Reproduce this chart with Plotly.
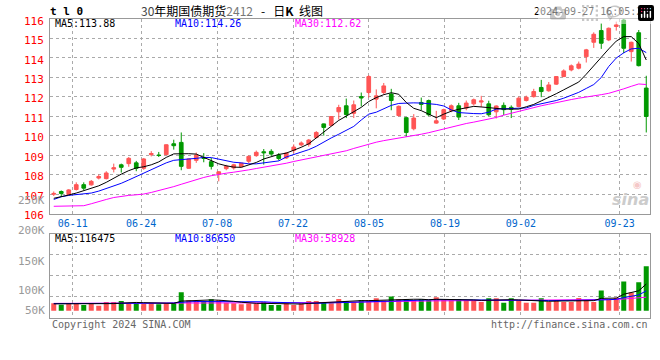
import plotly.graph_objects as go

# ---------------- data ----------------
dates = ["06-05", "06-06", "06-07", "06-11", "06-12", "06-13", "06-14", "06-17", "06-18", "06-19",
         "06-20", "06-21", "06-24", "06-25", "06-26", "06-27", "06-28",
         "07-01", "07-02", "07-03", "07-04", "07-05", "07-08", "07-09", "07-10", "07-11", "07-12",
         "07-15", "07-16", "07-17", "07-18", "07-19", "07-22", "07-23", "07-24", "07-25", "07-26",
         "07-29", "07-30", "07-31",
         "08-01", "08-02", "08-05", "08-06", "08-07", "08-08", "08-09", "08-12", "08-13", "08-14",
         "08-15", "08-16", "08-19", "08-20", "08-21", "08-22", "08-23", "08-26", "08-27", "08-28",
         "08-29", "08-30",
         "09-02", "09-03", "09-04", "09-05", "09-06", "09-09", "09-10", "09-11", "09-12", "09-13",
         "09-18", "09-19", "09-20", "09-23", "09-24", "09-25", "09-26", "09-27"]

opens = [106.99, 107.13, 106.97, 107.23, 107.48, 107.47, 107.82, 107.79, 108.28, 108.50,
         108.56, 108.60, 108.32, 109.02, 109.00, 109.02, 109.58, 109.65, 108.32, 108.73,
         108.87, 108.66, 108.03, 108.30, 108.34, 108.40, 108.68, 108.97, 109.17, 109.19,
         109.00, 108.85, 109.24, 109.52, 109.55, 109.90, 110.60, 110.52, 111.22, 111.53,
         111.14, 112.00, 112.21, 111.87, 112.21, 112.13, 111.03, 110.92, 110.35, 111.70,
         111.80, 110.64, 110.85, 111.29, 111.53, 111.41, 111.63, 111.72, 111.63, 111.22,
         111.55, 111.45, 111.49, 111.80, 112.00, 112.47, 112.30, 112.64, 113.03, 113.37,
         113.46, 114.05, 114.79, 115.39, 114.91, 115.60, 115.93, 114.31, 115.28, 112.44]
highs = [107.13, 107.18, 107.25, 107.60, 107.60, 107.72, 108.00, 108.17, 108.56, 108.56,
         108.90, 108.70, 108.85, 109.20, 109.16, 109.55, 109.79, 110.16, 108.82, 109.13,
         109.10, 108.85, 108.17, 108.50, 108.55, 108.60, 108.98, 109.23, 109.31, 109.30,
         109.10, 109.15, 109.55, 109.70, 109.82, 110.23, 110.62, 111.00, 111.58, 111.90,
         111.80, 112.21, 113.10, 112.37, 112.70, 112.40, 111.55, 110.95, 111.10, 111.95,
         111.85, 111.27, 111.38, 111.60, 111.68, 111.80, 111.90, 112.04, 111.79, 111.55,
         111.70, 111.55, 112.00, 112.05, 112.40, 112.86, 112.75, 113.05, 113.40, 113.65,
         113.80, 114.45, 115.30, 115.77, 115.55, 115.85, 116.10, 114.82, 115.42, 113.07]
lows = [106.90, 106.89, 106.95, 107.18, 107.20, 107.43, 107.75, 107.75, 108.11, 108.10,
        108.40, 108.17, 108.24, 108.93, 108.90, 109.00, 109.28, 108.22, 108.30, 108.60,
        108.63, 108.26, 107.65, 108.22, 108.25, 108.38, 108.58, 108.91, 108.51, 108.95,
        108.72, 108.80, 109.10, 109.45, 109.43, 109.86, 110.00, 110.50, 110.82, 110.90,
        110.90, 111.50, 111.95, 111.40, 112.10, 111.30, 110.97, 109.93, 110.27, 111.30,
        111.00, 110.60, 110.80, 111.20, 110.80, 111.30, 111.55, 111.46, 111.00, 110.88,
        111.05, 110.90, 111.45, 111.75, 111.95, 111.97, 112.25, 112.60, 113.00, 113.30,
        113.40, 113.75, 114.50, 114.45, 114.85, 115.39, 114.23, 113.80, 113.55, 110.16]
closes = [107.03, 107.03, 107.21, 107.48, 107.30, 107.65, 107.90, 108.08, 108.35, 108.37,
          108.83, 108.32, 108.80, 109.08, 108.98, 109.53, 109.48, 108.42, 108.80, 109.00,
          108.83, 108.42, 108.14, 108.42, 108.50, 108.58, 108.93, 109.14, 109.12, 109.05,
          108.82, 109.10, 109.41, 109.62, 109.77, 110.16, 110.42, 110.98, 111.44, 111.08,
          111.58, 111.93, 113.03, 112.04, 112.55, 111.80, 111.50, 110.16, 110.90, 111.60,
          111.07, 110.76, 111.33, 111.53, 110.95, 111.67, 111.84, 111.78, 111.07, 111.52,
          111.33, 111.35, 111.92, 111.97, 112.26, 112.26, 112.60, 113.03, 113.32, 113.58,
          113.67, 114.40, 115.20, 114.74, 115.51, 115.68, 114.48, 114.79, 113.59, 110.98]

ma5 = [106.78, 106.85, 106.95, 107.05, 107.18, 107.28, 107.42, 107.60, 107.82, 108.02,
       108.20, 108.34, 108.40, 108.50, 108.65, 108.88, 109.06, 109.08, 109.07, 109.05,
       108.88, 108.72, 108.55, 108.45, 108.38, 108.37, 108.48, 108.62, 108.80, 108.92,
       109.03, 109.10, 109.23, 109.40, 109.58, 109.88, 110.15, 110.45, 110.78, 111.00,
       111.22, 111.45, 111.75, 111.95, 112.10, 112.20, 112.12, 111.70, 111.40, 111.28,
       111.10, 110.92, 111.10, 111.25, 111.35, 111.42, 111.50, 111.47, 111.44, 111.38,
       111.36, 111.36, 111.36, 111.48, 111.60, 111.78, 111.95, 112.15, 112.35, 112.55,
       112.75, 113.15, 113.60, 114.00, 114.45, 114.85, 115.08, 115.08, 114.72, 113.88]
ma10 = [106.72, 106.86, 106.93, 106.97, 106.98, 107.05, 107.15, 107.27, 107.40, 107.55,
        107.72, 107.90, 108.07, 108.25, 108.42, 108.60, 108.73, 108.78, 108.80, 108.83,
        108.88, 108.87, 108.80, 108.70, 108.63, 108.60, 108.55, 108.55, 108.60, 108.64,
        108.70, 108.90, 109.02, 109.13, 109.28, 109.45, 109.68, 109.88, 110.07, 110.27,
        110.47, 110.80, 111.10, 111.20, 111.38, 111.55, 111.65, 111.68, 111.68, 111.67,
        111.64, 111.60, 111.52, 111.32, 111.18, 111.14, 111.13, 111.12, 111.20, 111.36,
        111.37, 111.37, 111.38, 111.42, 111.55, 111.62, 111.70, 111.80, 111.92, 112.05,
        112.22, 112.42, 112.62, 112.98, 113.55, 113.98, 114.25, 114.45, 114.48, 114.26]
ma30 = [106.37, 106.37, 106.37, 106.38, 106.40, 106.50, 106.62, 106.72, 106.82, 106.89,
        106.93, 106.96, 107.00, 107.08, 107.17, 107.27, 107.38, 107.50, 107.62, 107.74,
        107.85, 107.94, 108.02, 108.07, 108.12, 108.17, 108.24, 108.31, 108.38, 108.43,
        108.49, 108.58, 108.67, 108.75, 108.82, 108.90, 108.97, 109.04, 109.12, 109.22,
        109.34, 109.45, 109.55, 109.66, 109.74, 109.80, 109.86, 109.93, 110.00, 110.07,
        110.15, 110.24, 110.34, 110.45, 110.55, 110.62, 110.69, 110.77, 110.85, 110.93,
        111.05, 111.15, 111.24, 111.35, 111.44, 111.53, 111.61, 111.70, 111.78, 111.85,
        111.92, 111.97, 112.03, 112.10, 112.17, 112.27, 112.40, 112.53, 112.65, 112.62]

volume = [33000, 26000, 29000, 29000, 25000, 34000, 22000, 38000, 38000, 42000,
          33000, 34000, 29000, 34000, 28000, 34000, 34000, 81000, 46000, 42000,
          42000, 50000, 46000, 35000, 33000, 28000, 31000, 30000, 38000, 25000,
          25000, 33000, 25000, 33000, 42000, 42000, 38000, 33000, 51000, 42000,
          38000, 46000, 46000, 54000, 43000, 62000, 50000, 50000, 46000, 50000,
          46000, 59000, 48000, 46000, 50000, 46000, 46000, 38000, 54000, 54000,
          35000, 54000, 46000, 35000, 35000, 54000, 38000, 46000, 38000, 38000,
          55000, 46000, 38000, 88000, 48000, 57000, 127000, 80000, 124000, 194000]
vol_ma5 = [30, 30, 30, 29, 29, 28, 28, 29, 31, 33,
           35, 36, 35, 34, 32, 32, 32, 42, 44, 46,
           46, 47, 46, 45, 41, 37, 34, 32, 32, 31,
           30, 30, 29, 29, 32, 34, 37, 38, 41, 43,
           43, 44, 44, 45, 46, 49, 51, 50, 50, 50,
           48, 50, 50, 49, 49, 49, 47, 45, 46, 48,
           47, 48, 47, 45, 42, 43, 41, 42, 42, 42,
           45, 44, 44, 54, 55, 55, 72, 80, 87, 116.475]
vol_ma10 = [31, 31, 31, 30, 30, 30, 30, 30, 30, 31,
            32, 32, 32, 32, 33, 33, 34, 38, 39, 40,
            40, 40, 41, 41, 41, 41, 41, 41, 39, 37,
            36, 34, 32, 31, 31, 32, 33, 34, 36, 38,
            40, 41, 42, 43, 44, 45, 46, 47, 48, 48,
            48, 48, 48, 48, 48, 48, 48, 47, 47, 47,
            47, 47, 46, 46, 45, 45, 44, 44, 44, 44,
            44, 44, 44, 47, 48, 50, 57, 62, 69, 86.65]
vol_ma30 = [32, 32, 32, 32, 32, 32, 32, 32, 32, 32,
            32, 32, 32, 32, 32, 32, 32, 33, 33, 34,
            34, 35, 35, 35, 35, 35, 35, 35, 35, 35,
            35, 35, 35, 35, 35, 35, 36, 36, 36, 37,
            37, 38, 38, 39, 39, 40, 41, 41, 42, 42,
            43, 43, 43, 44, 44, 44, 44, 44, 45, 45,
            45, 45, 46, 46, 46, 46, 46, 46, 46, 46,
            46, 46, 46, 48, 48, 49, 51, 53, 55, 58.928]

label_dates = ["06-11", "06-24", "07-08", "07-22", "08-05", "08-19", "09-02", "09-23"]
price_ticks = [106, 107, 108, 109, 110, 111, 112, 113, 114, 115, 116]
vol_labels = ["200K", "150K", "100K", "50K"]
ma_price_text = ["MA5:113.88", "MA10:114.26", "MA30:112.62"]
ma_vol_text = ["MA5:116475", "MA10:86650", "MA30:58928"]

# ---------------- styling ----------------
W, H = 660, 360
RED = "#ff5555"
GREEN = "#009900"
MA_COLORS = ["#000000", "#0000ff", "#ff00ff"]
MONO = "DejaVu Sans Mono"
GRID = "#aaaaaa"
BORDER = "#999999"

def px(x, y):
    return x / W, (H - y) / H

N = len(dates)
idx = list(range(N))
vol_k = [v / 1000 for v in volume]

fig = go.Figure()
fig.add_trace(go.Candlestick(
    x=idx, open=opens, high=highs, low=lows, close=closes,
    increasing=dict(line=dict(color=RED, width=1), fillcolor=RED),
    decreasing=dict(line=dict(color=GREEN, width=1), fillcolor=GREEN),
    whiskerwidth=0, hoverinfo="skip", xaxis="x", yaxis="y"))
for arr, col in ((ma30, MA_COLORS[2]), (ma10, MA_COLORS[1]), (ma5, MA_COLORS[0])):
    fig.add_trace(go.Scatter(x=idx, y=arr, mode="lines", line=dict(color=col, width=1),
                             hoverinfo="skip", xaxis="x", yaxis="y"))

vol_colors = [RED if c >= o else GREEN for o, c in zip(opens, closes)]
fig.add_trace(go.Bar(x=idx, y=vol_k, marker=dict(color=vol_colors, line=dict(width=0)),
                     hoverinfo="skip", xaxis="x2", yaxis="y2"))
for arr, col in ((vol_ma30, MA_COLORS[2]), (vol_ma10, MA_COLORS[1]), (vol_ma5, MA_COLORS[0])):
    fig.add_trace(go.Scatter(x=idx, y=arr, mode="lines", line=dict(color=col, width=1),
                             hoverinfo="skip", xaxis="x2", yaxis="y2"))

# label grid uses a slightly different spacing than the candles (as in the original)
label_pos = [dates.index(d) * N / (N - 1) - 0.5 for d in label_dates]

xdom = [50 / W, 650 / W]
main_dom = [(H - 213.5) / H, (H - 18.7) / H]
vol_dom = [(H - 317.7) / H, (H - 234) / H]
vol_range = [-30.6, 335]
vq = (vol_range[1] - vol_range[0]) / 4
vol_grid = [vol_range[0] + vq * k for k in (1, 2, 3)]

common_x = dict(range=[-0.5, N - 0.5], showgrid=True, griddash="dot", gridcolor=GRID, gridwidth=1,
                showline=True, mirror=True, linecolor=BORDER, linewidth=1, zeroline=False,
                tickvals=label_pos, ticks="", fixedrange=True, automargin=False)

fig.update_layout(
    template="none",
    width=W, height=H, margin=dict(l=0, r=0, t=0, b=0, pad=0, autoexpand=False),
    paper_bgcolor="white", plot_bgcolor="white", showlegend=False, bargap=0.33,
    xaxis=dict(domain=xdom, anchor="y", ticktext=label_dates,
               tickfont=dict(family=MONO, size=10, color="#0066cc"),
               rangeslider=dict(visible=False), **common_x),
    xaxis2=dict(domain=xdom, anchor="y2", showticklabels=False, **common_x),
    yaxis=dict(domain=main_dom, anchor="x", range=[price_ticks[0], price_ticks[-1]],
               tickvals=price_ticks, ticktext=[str(t) for t in price_ticks],
               tickfont=dict(family=MONO, size=11, color="#ff0000"),
               showgrid=True, griddash="dot", gridcolor=GRID, showline=True, mirror=True,
               linecolor=BORDER, zeroline=False, ticks="", ticklabelstandoff=3,
               ticklabelshift=2, fixedrange=True, automargin=False),
    yaxis2=dict(domain=vol_dom, anchor="x2", range=vol_range, tickvals=vol_grid,
                showticklabels=False, showgrid=True, griddash="dot", gridcolor=GRID,
                showline=True, mirror=True, linecolor=BORDER, zeroline=False, ticks="",
                fixedrange=True, automargin=False),
)

ann = []
def text(x, y, s, color="#000000", size=10, xanchor="left", family=MONO, **kw):
    ax, ay = px(x, y)
    ann.append(dict(x=ax, y=ay, xref="paper", yref="paper", text=s, showarrow=False,
                    xanchor=xanchor, yanchor="middle",
                    font=dict(family=family, size=size, color=color), **kw))

text(48, 12, "<b>t l 0</b>", size=11)
text(139, 10.5,
     "<span style='color:#444444'>30</span>年期国债期货<span style='color:#777777'>2412</span>"
     "&nbsp;&nbsp;&nbsp;-&nbsp;&nbsp;&nbsp;日<b>K</b>&nbsp;&nbsp;线图",
     size=12, family="Noto Sans CJK SC")
text(650, 12, "2024-09-27 16:05:20", size=10, xanchor="right")
for s, xx, col in zip(ma_price_text, (53, 173, 293), MA_COLORS):
    text(xx, 24, s, color=col)
for s, xx, col in zip(ma_vol_text, (53, 173, 293), MA_COLORS):
    text(xx, 238.5, s, color=col)
for s, yy in zip(vol_labels, (231, 261, 290, 310)):
    text(47, yy, s, color="#999999", size=11, xanchor="right")
text(47, 200, "250K", color="#999999", size=11, xanchor="right")
text(50, 324, "Copyright 2024 SINA.COM", color="#666666")
text(650, 324, "http://finance.sina.com.cn", color="#666666", xanchor="right")
text(651, 199, "<b><i>sina</i></b>", color="#cccccc", size=16, xanchor="right",
     family="DejaVu Sans")
text(637, 185, "◉", color="#f5c8c8", size=10, xanchor="center", family="DejaVu Sans")

fig.update_layout(annotations=ann)
fig.write_html("out.html",
               post_script="document.body.style.margin='0';document.body.style.overflow='hidden';")
